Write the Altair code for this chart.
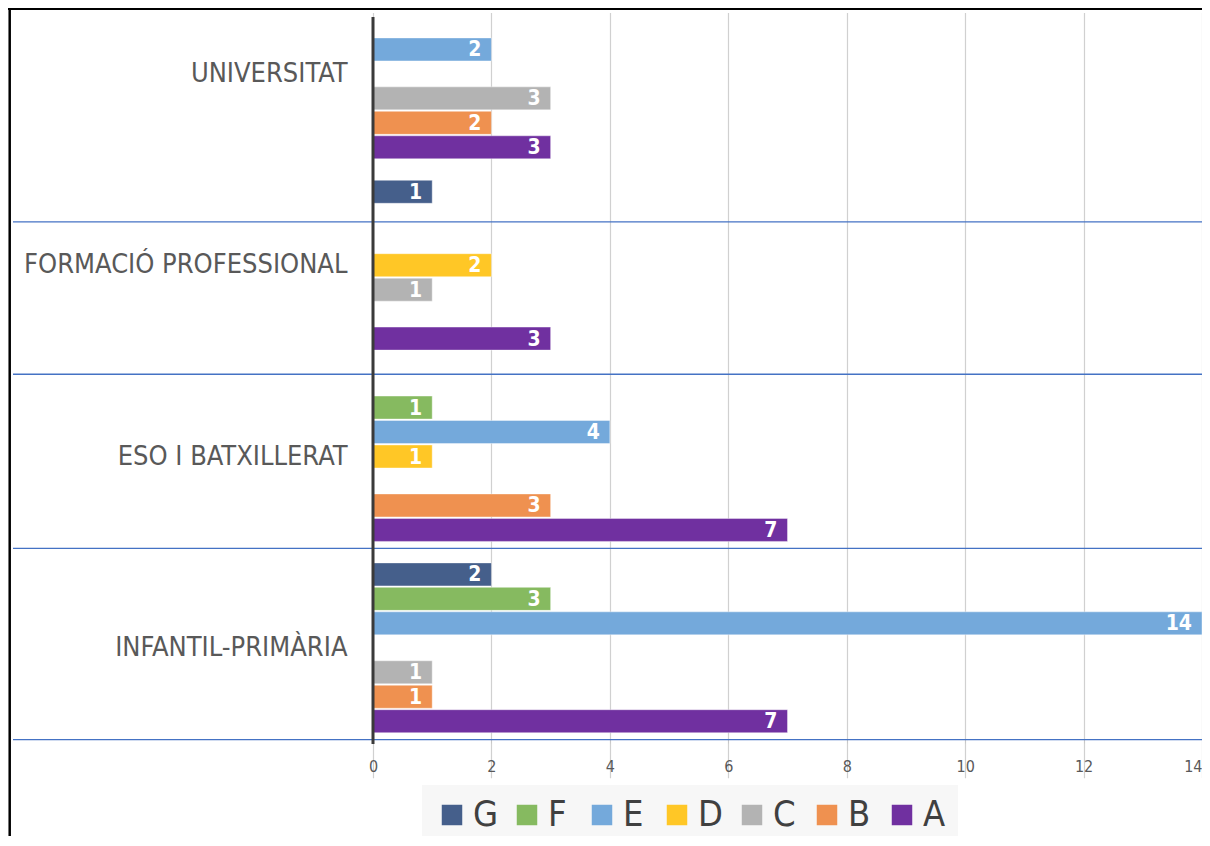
import altair as alt
import pandas as pd

# ---------------- data ----------------
groups = ["UNIVERSITAT", "FORMACIÓ PROFESSIONAL", "ESO I BATXILLERAT", "INFANTIL-PRIMÀRIA"]
series = ["G", "F", "E", "D", "C", "B", "A"]
values_G = [None, 1, None, 2]
values_F = [None, None, 1, 3]
values_E = [2, None, 4, 14]
values_D = [None, 2, 1, None]
values_C = [3, 1, None, 1]
values_B = [2, None, 3, 1]
values_A = [3, 3, 7, 7]
x_ticks = [0, 2, 4, 6, 8, 10, 12, 14]

# ---------------- styles / layout ----------------
colors = ["#455F8B", "#86BA60", "#74A9DB", "#FFC726", "#B3B3B3", "#EF9150", "#7030A0"]
FONT = "Liberation Sans Narrow, DejaVu Sans Condensed, Arial Narrow, sans-serif"
W, H = 829, 722
# horizontal blue separator lines, expressed as (groups, position within group band)
separators = [(["FORMACIÓ PROFESSIONAL"], 0.274),
              (["ESO I BATXILLERAT"], 0.07),
              (["ESO I BATXILLERAT", "INFANTIL-PRIMÀRIA"], 0.98)]

rows = []
for s, vals in zip(series, [values_G, values_F, values_E, values_D, values_C, values_B, values_A]):
    for g, v in zip(groups, vals):
        if v is not None:
            rows.append({"group": g, "series": s, "value": v})
df = pd.DataFrame(rows)

y_scale = alt.Scale(domain=groups, range=[-38.75, 726.45], paddingInner=0, paddingOuter=0)
y_axis = alt.Axis(title=None, domain=False, ticks=False, grid=False, labelFontSize=27,
                  labelColor="#595959", labelFont=FONT, labelPadding=26, labelLimit=420)
y_enc = alt.Y("group:N", scale=y_scale, axis=y_axis)
yoff = alt.YOffset("series:N", scale=alt.Scale(domain=series, paddingInner=0.06, paddingOuter=0.439))
x_enc = alt.X("value:Q", scale=alt.Scale(domain=[0, 14], nice=False),
              axis=alt.Axis(values=x_ticks, format="d", title=None, grid=True, gridColor="#d0d0d0",
                            gridWidth=1.2, domain=False, tickColor="#c8c8c8", tickSize=4,
                            labelFlush=False,
                            labelAlign={"condition": {"test": "datum.value == 14", "value": "right"},
                                        "value": "center"},
                            labelPadding=15, labelFontSize=16,
                            labelColor="#595959", labelFont=FONT))
color = alt.Color("series:N", scale=alt.Scale(domain=series, range=colors),
                  legend=alt.Legend(title=None, orient="none", legendX=49, legendY=768,
                                    direction="horizontal", symbolType="square", symbolSize=420,
                                    symbolStrokeWidth=0, labelFontSize=36, labelFont=FONT,
                                    labelColor="#404040", labelOffset=3, columnPadding=10,
                                    padding=12, fillColor="#f7f7f7", gridAlign="all"))

bars = alt.Chart(df).mark_bar(stroke="white", strokeWidth=0.8, strokeOpacity=0.5).encode(
    x=x_enc, y=y_enc, yOffset=yoff, color=color)

labels = alt.Chart(df).mark_text(align="right", baseline="middle", dx=-10, dy=1, color="white",
                                 fontSize=21, fontWeight="bold", font=FONT).encode(
    x="value:Q", y="group:N", yOffset="series:N", text="value:Q")

layers = [bars, labels]
for grp_list, pos in separators:
    layers.append(
        alt.Chart(pd.DataFrame({"group": grp_list})).mark_rule(color="#4472C4", strokeWidth=1.3).encode(
            y=alt.Y("group:N", bandPosition=pos),
            x=alt.value(-360), x2=alt.value(W + 5)))

one = pd.DataFrame({"d": [0]})
axis_line = alt.Chart(one).mark_rule(color="#3a3a3a", strokeWidth=3).encode(
    x=alt.datum(0), y=alt.value(0), y2=alt.value(H + 5))
frame_top = alt.Chart(one).mark_rule(color="black", strokeWidth=2).encode(
    x=alt.value(-365), x2=alt.value(W + 5), y=alt.value(-8))
frame_left = alt.Chart(one).mark_rule(color="black", strokeWidth=2.5).encode(
    x=alt.value(-363.3), y=alt.value(-9), y2=alt.value(H + 120))
layers += [axis_line, frame_top, frame_left]

chart = alt.layer(*layers).properties(
    width=W, height=H,
    padding={"left": 365, "top": 9, "right": 0, "bottom": 97},
    autosize=alt.AutoSizeParams(type="none"),
    background="white",
).configure_view(strokeWidth=0)

chart.save("out.html", embed_options={"renderer": "svg", "actions": False})
